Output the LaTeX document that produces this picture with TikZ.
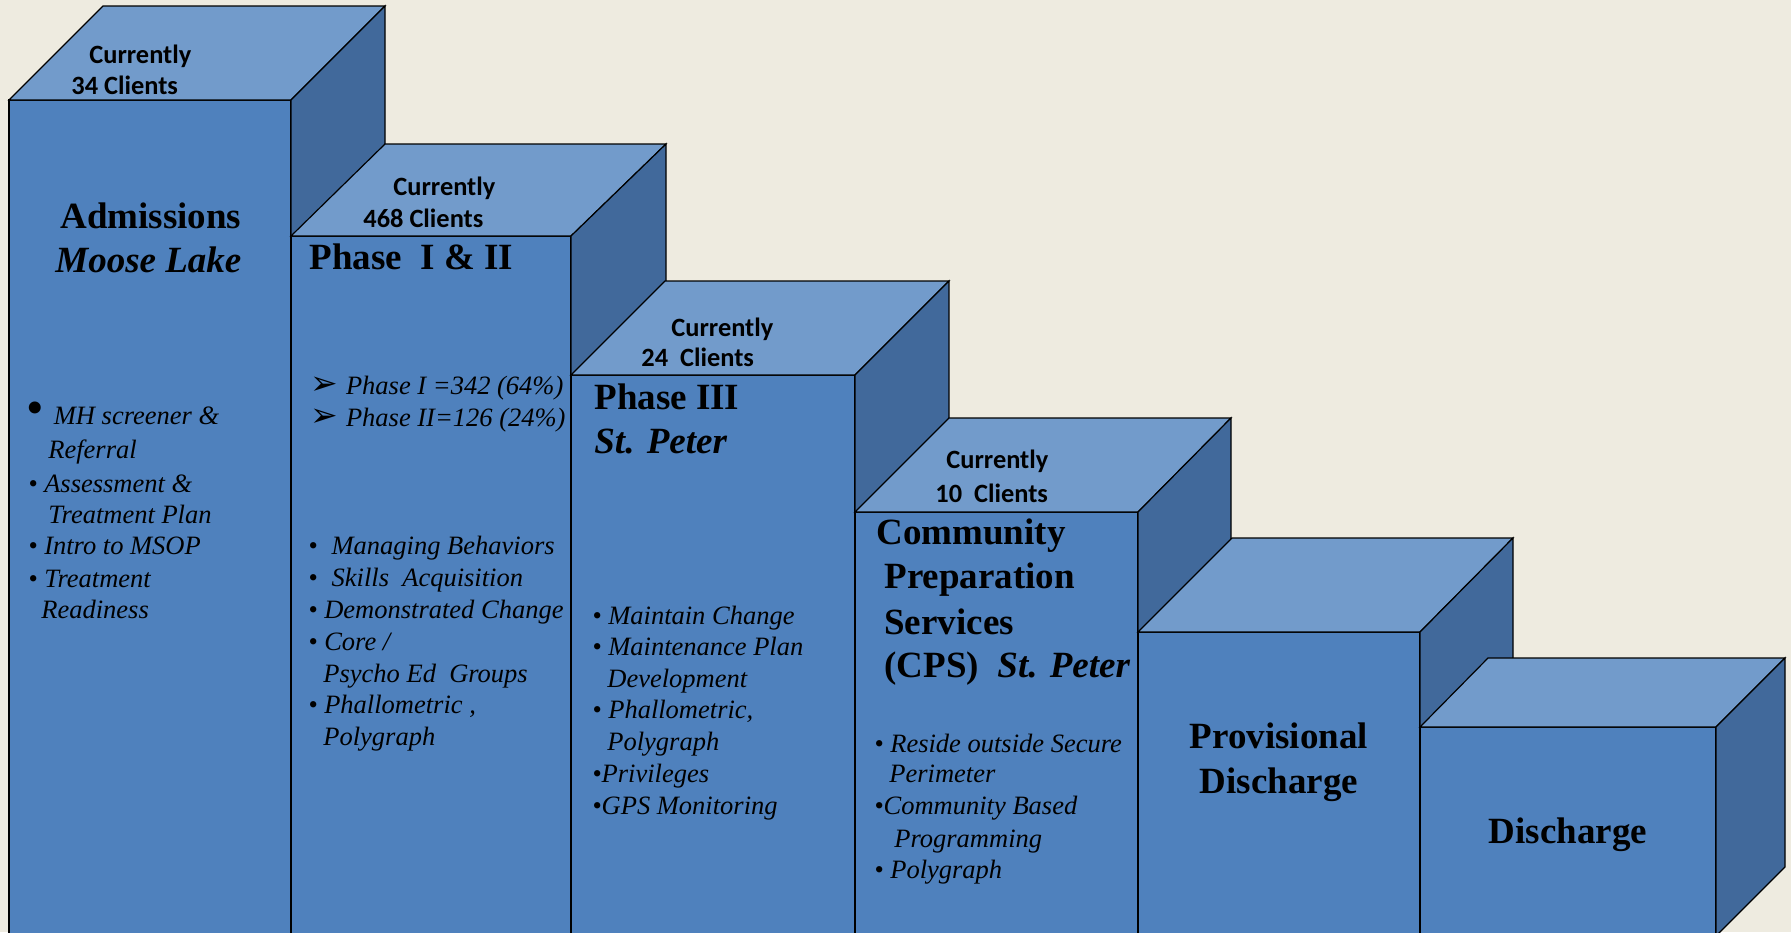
\documentclass[tikz,border=0pt]{standalone}
\usepackage{fontspec}
\setmainfont{Liberation Serif}
\newfontfamily\calibrifont{Carlito}
\newfontfamily\arrowfont{DejaVu Sans}
\definecolor{bgbeige}{RGB}{238,235,224}
\definecolor{frontblue}{RGB}{79,129,189}
\definecolor{topblue}{RGB}{114,155,203}
\definecolor{sideblue}{RGB}{65,105,155}

\begin{document}
\begin{tikzpicture}[x=0.5pt,y=-0.5pt,
    front/.style={draw=black,line width=0.6pt,fill=frontblue},
    topside/.style={draw=black,line width=0.6pt,fill=topblue},
    rightside/.style={draw=black,line width=0.6pt,fill=sideblue},
    clients/.style={font=\calibrifont\bfseries\fontsize{13.2pt}{15pt}\selectfont,anchor=base west,inner sep=0pt},
    phase/.style={font=\bfseries\fontsize{18.5pt}{22pt}\selectfont,anchor=base west,inner sep=0pt},
    item/.style={font=\itshape\fontsize{13.25pt}{16pt}\selectfont,anchor=base west,inner sep=0pt}]
        \useasboundingbox (0,0) rectangle (1791,932);
        \fill[bgbeige] (0,0) rectangle (1791,932);
        % steps, from left to right
        \draw[front] (9,100) rectangle (291,936);
        \draw[topside] (9,100) -- (103,6) -- (385,6) -- (291,100) -- cycle;
        \draw[rightside] (291,100) -- (385,6) -- (385,842) -- (291,936) -- cycle;
        \draw[front] (291,236) rectangle (571,936);
        \draw[topside] (291,236) -- (385,144) -- (666,144) -- (571,236) -- cycle;
        \draw[rightside] (571,236) -- (666,144) -- (666,842) -- (571,936) -- cycle;
        \draw[front] (571,375) rectangle (855,936);
        \draw[topside] (571,375) -- (665,281) -- (949,281) -- (855,375) -- cycle;
        \draw[rightside] (855,375) -- (949,281) -- (949,842) -- (855,936) -- cycle;
        \draw[front] (855,512) rectangle (1138,936);
        \draw[topside] (855,512) -- (949,418) -- (1231,418) -- (1138,512) -- cycle;
        \draw[rightside] (1138,512) -- (1231,418) -- (1231,842) -- (1138,936) -- cycle;
        \draw[front] (1138,632) rectangle (1420,936);
        \draw[topside] (1138,632) -- (1232,538) -- (1513,538) -- (1420,632) -- cycle;
        \draw[rightside] (1420,632) -- (1513,538) -- (1513,842) -- (1420,936) -- cycle;
        \draw[front] (1420,727) rectangle (1716,936);
        \draw[topside] (1420,727) -- (1488,658) -- (1785,658) -- (1716,727) -- cycle;
        \draw[rightside] (1716,727) -- (1785,658) -- (1785,867) -- (1716,936) -- cycle;
        % Admissions
        \node[clients] (A1) at (89,63) {Currently};
        \node[clients] (A2) at (71,94) {34 Clients};
        \node[phase] (A3) at (60,228) {Admissions};
        \node[phase,font=\bfseries\itshape\fontsize{18.5pt}{22pt}\selectfont] (A4) at (55,272) {Moose Lake};
        \node[item] (A5) at (26,424) {{\upshape\fontsize{25pt}{25pt}\selectfont •}\hspace{5pt}MH screener \&};
        \node[item] (A6) at (48,458) {Referral};
        \node[item] (A7) at (28,492) {• Assessment \&};
        \node[item] (A8) at (48,523) {Treatment Plan};
        \node[item] (A9) at (28,554) {• Intro to MSOP};
        \node[item] (A10) at (28,587) {• Treatment};
        \node[item] (A11) at (41,618) {Readiness};
        % Phase I & II
        \node[clients] (B1) at (393,195) {Currently};
        \node[clients] (B2) at (363,227) {468 Clients};
        \node[phase] (B3) at (309,269) {Phase\ \ I \& II};
        \node[item] (B4) at (310,394) {{\arrowfont\upshape\fontsize{16.5pt}{16pt}\selectfont ➢}\hspace{4pt}Phase I =342 (64\%)};
        \node[item] (B5) at (310,426) {{\arrowfont\upshape\fontsize{16.5pt}{16pt}\selectfont ➢}\hspace{4pt}Phase II=126 (24\%)};
        \node[item] (B6) at (308,554) {•\hspace{7pt}Managing Behaviors};
        \node[item] (B7) at (308,586) {•\hspace{7pt}Skills\ \ Acquisition};
        \node[item] (B8) at (308,618) {• Demonstrated Change};
        \node[item] (B9) at (308,650) {• Core /};
        \node[item] (B10) at (323,682) {Psycho Ed\ \ Groups};
        \node[item] (B11) at (308,713) {• Phallometric ,};
        \node[item] (B12) at (323,745) {Polygraph};
        % Phase III
        \node[clients] (C1) at (671,336) {Currently};
        \node[clients] (C2) at (641,366) {24\ \ Clients};
        \node[phase] (C3) at (594,409) {Phase III};
        \node[phase,font=\bfseries\itshape\fontsize{18.5pt}{22pt}\selectfont] (C4) at (594,453) {St. Peter};
        \node[item] (C5) at (592,624) {• Maintain Change};
        \node[item] (C6) at (592,655) {• Maintenance Plan};
        \node[item] (C7) at (607,687) {Development};
        \node[item] (C8) at (592,718) {• Phallometric,};
        \node[item] (C9) at (607,750) {Polygraph};
        \node[item] (C10) at (592,782) {•Privileges};
        \node[item] (C11) at (592,814) {•GPS Monitoring};
        % CPS
        \node[clients] (D1) at (946,468) {Currently};
        \node[clients] (D2) at (935,502) {10\ \ Clients};
        \node[phase] (D3) at (876,544) {Community};
        \node[phase] (D4) at (884,588) {Preparation};
        \node[phase] (D5) at (884,634) {Services};
        \node[phase] (D6) at (884,677) {(CPS)\ \ \textit{St. Peter}};
        \node[item] (D7) at (874,752) {• Reside outside Secure};
        \node[item] (D8) at (889,782) {Perimeter};
        \node[item] (D9) at (874,814) {•Community Based};
        \node[item] (D10) at (894,847) {Programming};
        \node[item] (D11) at (874,878) {• Polygraph};
        % last two steps
        \node[phase,anchor=base] (E1) at (1279,748) {Provisional};
        \node[phase,anchor=base] (E2) at (1279,793) {Discharge};
        \node[phase,anchor=base] (F1) at (1568,843) {Discharge};
    \end{tikzpicture}
\end{document}
